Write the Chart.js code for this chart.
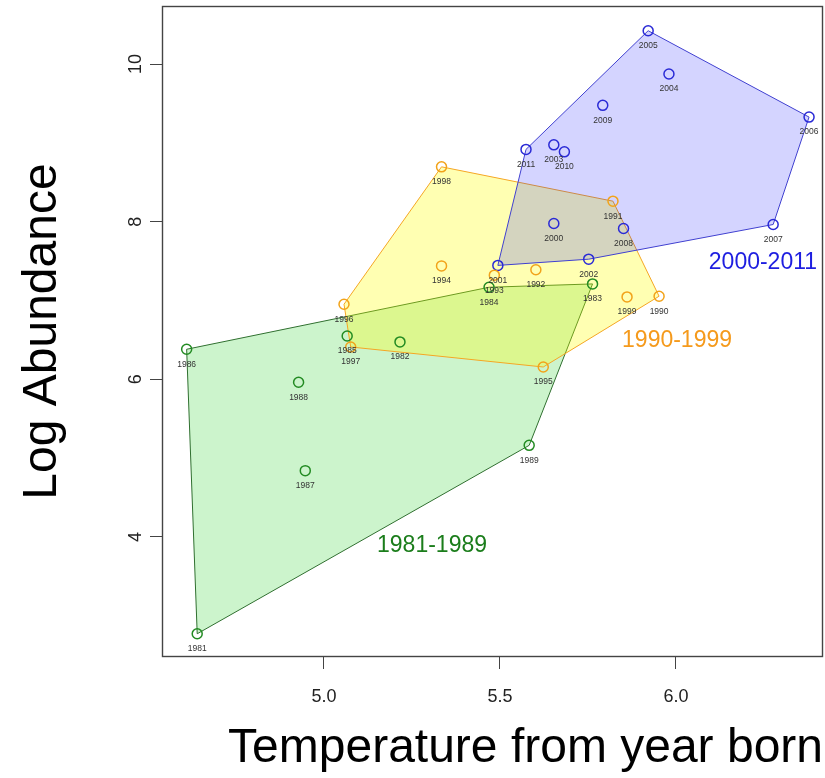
<!DOCTYPE html>
<html>
<head>
<meta charset="utf-8">
<title>Log Abundance x Temperature</title>
<script src="https://cdn.jsdelivr.net/npm/chart.js@4/dist/chart.umd.min.js"></script>
<style>
    html, body { margin: 0; padding: 0; background: #fff; }
    #wrap { width: 825px; height: 778px; }
</style>
</head>
<body>
<div id="wrap"><canvas id="grafico"></canvas></div>
<script>
// 1981-1989
const anos81 = [1981, 1982, 1983, 1984, 1985, 1986, 1987, 1988, 1989];
const temp81 = [4.640, 5.216, 5.763, 5.469, 5.066, 4.610, 4.947, 4.928, 5.583];
const abund81 = [2.771, 6.474, 7.210, 7.168, 6.550, 6.381, 4.841, 5.962, 5.162];
const casca81 = [1981, 1986, 1984, 1983, 1989];

// 1990-1999
const anos90 = [1990, 1991, 1992, 1993, 1994, 1995, 1996, 1997, 1998, 1999];
const temp90 = [5.952, 5.821, 5.602, 5.484, 5.334, 5.623, 5.057, 5.076, 5.334, 5.861];
const abund90 = [7.054, 8.260, 7.390, 7.321, 7.439, 6.156, 6.952, 6.410, 8.696, 7.045];
const casca90 = [1998, 1991, 1990, 1995, 1997, 1996];

// 2000-2011
const anos00 = [2000, 2001, 2002, 2003, 2004, 2005, 2006, 2007, 2008, 2009, 2010, 2011];
const temp00 = [5.653, 5.494, 5.752, 5.653, 5.980, 5.921, 6.378, 6.276, 5.851, 5.792, 5.683, 5.574];
const abund00 = [7.977, 7.445, 7.524, 8.975, 9.873, 10.423, 9.327, 7.964, 7.914, 9.476, 8.886, 8.917];
const casca00 = [2005, 2006, 2007, 2002, 2001, 2011];

const xTicks = [5.0, 5.5, 6.0];
const yTicks = [4, 6, 8, 10];

// nomes dos grupos e onde ficam (em unidades do grafico)
const nomesGrupo = ['1981-1989', '1990-1999', '2000-2011'];
const nomeX = [5.307, 6.003, 6.247];
const nomeY = [3.892, 6.495, 7.486];

const FONTE = '"Liberation Sans", Arial, Helvetica, sans-serif';

const grupos = [
    { anos: anos81, x: temp81, y: abund81, casca: casca81, cor: '#228b22', linha: '#2f6f2f', fundo: 'rgba(0,200,0,0.2)', texto: '#1b7d1b' },
    { anos: anos90, x: temp90, y: abund90, casca: casca90, cor: '#f2a31a', linha: '#f5a623', fundo: 'rgba(255,255,0,0.3)', texto: '#f59a1c' },
    { anos: anos00, x: temp00, y: abund00, casca: casca00, cor: '#2a2ad6', linha: '#4040d0', fundo: 'rgba(0,0,255,0.17)', texto: '#1e1ee0' }
];

const pontos = (g) => g.anos.map((a, i) => ({ x: g.x[i], y: g.y[i], ano: a }));

const poligono = (g) => {
    const pts = g.casca.map(a => {
        const i = g.anos.indexOf(a);
        return { x: g.x[i], y: g.y[i] };
    });
    pts.push(pts[0]); // fecha o contorno
    return pts;
};

const datasets = [];
grupos.forEach((g, i) => {
    datasets.push({
        data: poligono(g),
        showLine: true,
        fill: 'shape',
        backgroundColor: g.fundo,
        borderColor: g.linha,
        borderWidth: 1,
        pointRadius: 0,
        pointHoverRadius: 0,
        order: 3 - i
    });
});
grupos.forEach((g) => {
    datasets.push({
        data: pontos(g),
        pontos: true,
        showLine: false,
        pointRadius: 5,
        pointHoverRadius: 5,
        borderWidth: 1.5,
        borderColor: g.cor,
        backgroundColor: 'rgba(0,0,0,0)',
        order: 0
    });
});

// anos embaixo dos pontos, nomes dos grupos e a caixa
const rotulos = {
    id: 'rotulos',
    afterDatasetsDraw: (chart) => {
        const { ctx, chartArea, scales } = chart;
        ctx.save();
        ctx.font = '8.5px ' + FONTE;
        ctx.fillStyle = '#333';
        ctx.textAlign = 'center';
        ctx.textBaseline = 'middle';
        chart.data.datasets.forEach((ds, i) => {
            if (!ds.pontos) return;
            chart.getDatasetMeta(i).data.forEach((el, j) => {
                ctx.fillText(String(ds.data[j].ano), el.x, el.y + 15);
            });
        });

        ctx.font = '23px ' + FONTE;
        grupos.forEach((g, i) => {
            ctx.fillStyle = g.texto;
            ctx.fillText(nomesGrupo[i], scales.x.getPixelForValue(nomeX[i]), scales.y.getPixelForValue(nomeY[i]));
        });

        ctx.strokeStyle = '#444';
        ctx.lineWidth = 1.4;
        ctx.strokeRect(chartArea.left + 0.5, chartArea.top + 0.5, chartArea.width - 1, chartArea.height - 1);
        ctx.restore();
    }
};

// sem folga extra dos rotulos, quem manda e o layout.padding
const semFolga = (s) => {
    s.paddingTop = 0;
    s.paddingBottom = 0;
    s.paddingLeft = 0;
    s.paddingRight = 0;
};

new Chart(document.getElementById('grafico'), {
    type: 'scatter',
    data: { datasets },
    plugins: [rotulos],
    options: {
        responsive: true,
        maintainAspectRatio: false,
        animation: false,
        layout: { autoPadding: false, padding: { top: 6, right: 2, left: 0, bottom: 0 } },
        plugins: { legend: { display: false }, tooltip: { enabled: false } },
        scales: {
            x: {
                type: 'linear',
                min: 4.540,
                max: 6.4176,
                afterBuildTicks: (s) => { s.ticks = xTicks.map(v => ({ value: v })); },
                afterFit: (s) => { s.height = 121; semFolga(s); },
                border: { display: false },
                grid: { drawOnChartArea: false, drawTicks: true, tickLength: 12, color: '#444', lineWidth: 1 },
                ticks: {
                    autoSkip: false, maxRotation: 0, padding: 17, color: '#222',
                    font: { size: 18, family: FONTE },
                    callback: (v) => Number(v).toFixed(1)
                },
                title: {
                    display: true, text: 'Temperature from year born', align: 'end', color: '#000',
                    font: { size: 48, family: FONTE }, padding: { top: 0, bottom: 0 }
                }
            },
            y: {
                type: 'linear',
                min: 2.4762,
                max: 10.7365,
                afterBuildTicks: (s) => { s.ticks = yTicks.map(v => ({ value: v })); },
                afterFit: (s) => { s.width = 162; semFolga(s); },
                border: { display: false },
                grid: { drawOnChartArea: false, drawTicks: true, tickLength: 12, color: '#444', lineWidth: 1 },
                ticks: {
                    autoSkip: false, minRotation: 90, maxRotation: 90, crossAlign: 'center', padding: 4, color: '#222',
                    font: { size: 18, family: FONTE }
                },
                title: {
                    display: true, text: 'Log Abundance', color: '#000',
                    font: { size: 48, family: FONTE }, padding: { top: 14, bottom: 0 }
                }
            }
        }
    }
});
</script>
</body>
</html>
